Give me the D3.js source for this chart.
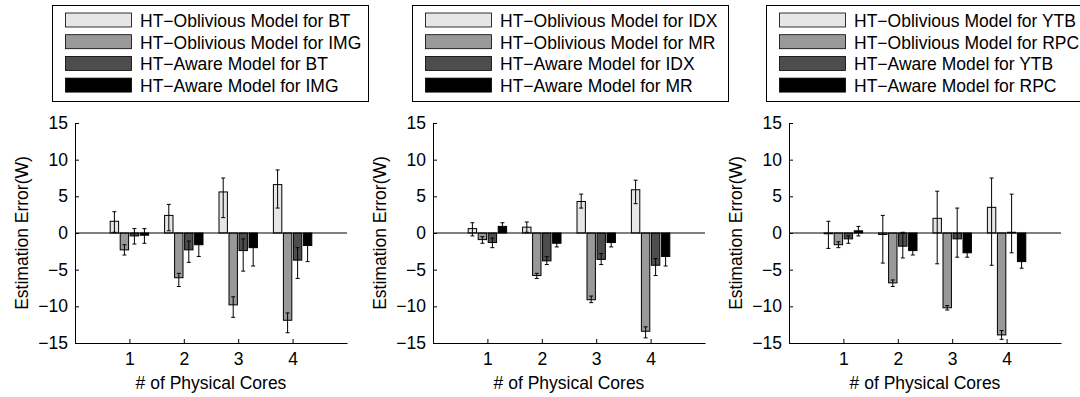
<!DOCTYPE html>
<html>
<head>
<meta charset="utf-8">
<script src="https://cdn.jsdelivr.net/npm/d3@7"></script>
<style>
  body { margin: 0; background: #fff; }
  svg text { font-family: "Liberation Sans", Arial, Helvetica, sans-serif; fill: #000; }
</style>
</head>
<body>
<div id="chart"></div>
<script>
// x categories and y ticks shared by all three panels
var cores = [1, 2, 3, 4];
var yTicks = [-15, -10, -5, 0, 5, 10, 15];

// panel 1: BT / IMG
var p1Names = ["HT\u2212Oblivious Model for BT", "HT\u2212Oblivious Model for IMG",
               "HT\u2212Aware Model for BT", "HT\u2212Aware Model for IMG"];
var p1Values = [[1.6, 2.4, 5.6, 6.6], [-2.3, -6.1, -9.8, -11.9], [-0.4, -2.3, -2.4, -3.7], [-0.3, -1.6, -2.0, -1.7]];
var p1Low    = [[0.1, 0.3, 2.1, 3.4], [-3.0, -7.3, -11.5, -13.6], [-1.5, -4.0, -5.2, -6.2], [-1.4, -3.2, -4.5, -3.9]];
var p1High   = [[2.9, 3.9, 7.5, 8.6], [-1.6, -5.5, -8.7, -10.9], [0.6, -1.1, -0.8, -2.0], [0.6, -0.6, -0.5, -0.3]];

// panel 2: IDX / MR
var p2Names = ["HT\u2212Oblivious Model for IDX", "HT\u2212Oblivious Model for MR",
               "HT\u2212Aware Model for IDX", "HT\u2212Aware Model for MR"];
var p2Values = [[0.6, 0.8, 4.3, 5.9], [-0.9, -5.8, -9.1, -13.4], [-1.3, -3.8, -3.6, -4.4], [0.9, -1.4, -1.3, -3.2]];
var p2Low    = [[-0.4, 0.1, 3.4, 4.0], [-1.4, -6.2, -9.5, -14.3], [-2.0, -4.3, -4.3, -5.8], [0.4, -1.9, -1.9, -4.5]];
var p2High   = [[1.4, 1.5, 5.3, 7.2], [-0.5, -5.5, -8.6, -12.8], [-0.7, -3.2, -2.8, -3.5], [1.4, -0.9, -0.8, -1.9]];

// panel 3: YTB / RPC
var p3Names = ["HT\u2212Oblivious Model for YTB", "HT\u2212Oblivious Model for RPC",
               "HT\u2212Aware Model for YTB", "HT\u2212Aware Model for RPC"];
var p3Values = [[-0.1, -0.2, 2.0, 3.5], [-1.6, -6.8, -10.2, -13.9], [-0.8, -1.8, -0.8, 0.1], [0.3, -2.4, -2.7, -3.9]];
var p3Low    = [[-2.1, -4.1, -4.2, -4.4], [-2.0, -7.3, -10.5, -14.5], [-1.4, -3.4, -3.3, -2.7], [-0.4, -3.0, -3.3, -4.8]];
var p3High   = [[1.6, 2.4, 5.7, 7.5], [-1.2, -6.4, -9.9, -13.3], [-0.4, 0.1, 3.4, 5.3], [0.9, -1.8, -2.1, -3.0]];

var panels = [
  { names: p1Names, values: p1Values, low: p1Low, high: p1High },
  { names: p2Names, values: p2Values, low: p2Low, high: p2High },
  { names: p3Names, values: p3Values, low: p3Low, high: p3High }
];

// layout
var svgWidth = 1080;
var svgHeight = 397;
var panelLeft = [75, 433, 789];
var legendLeft = [52, 412, 766];
var plotWidth = 272;
var plotTop = 123;
var plotBottom = 343;
var fontSize = "17.5px";
var colors = ["#e6e6e6", "#999999", "#4d4d4d", "#000000"];

var svg = d3.select("#chart")
  .append("svg")
  .attr("width", svgWidth)
  .attr("height", svgHeight);

panels.forEach(function(p, i) {
  // legend box
  var leg = svg.append("g")
    .attr("transform", `translate(${legendLeft[i]}, 5)`);
  leg.append("rect")
    .attr("x", 0.5).attr("y", 0.5)
    .attr("width", 316).attr("height", 96)
    .attr("fill", "#fff")
    .attr("stroke", "#000");
  p.names.forEach(function(name, s) {
    leg.append("rect")
      .attr("x", 13.5)
      .attr("y", 8 + s * 21.7)
      .attr("width", 66)
      .attr("height", 14)
      .attr("fill", colors[s])
      .attr("stroke", "#000")
      .attr("stroke-width", 0.8);
    leg.append("text")
      .attr("x", 88)
      .attr("y", 22 + s * 21.7)
      .style("font-size", fontSize)
      .text(name);
  });

  var g = svg.append("g")
    .attr("transform", `translate(${panelLeft[i]}, 0)`);

  var x = d3.scaleLinear().domain([0, 5]).range([0, plotWidth]);
  var y = d3.scaleLinear().domain([-15, 15]).range([plotBottom, plotTop]);
  var half = (x(1) - x(0)) * 0.353;
  var sub = d3.scaleBand()
    .domain(d3.range(4))
    .range([-half, half])
    .paddingInner(0.16);

  // bars
  p.values.forEach(function(vals, s) {
    g.selectAll(null)
      .data(vals)
      .enter()
      .append("rect")
      .attr("x", (d, k) => x(cores[k]) + sub(s))
      .attr("y", d => Math.min(y(d), y(0)))
      .attr("width", sub.bandwidth())
      .attr("height", d => Math.abs(y(d) - y(0)))
      .attr("fill", colors[s])
      .attr("stroke", "#000")
      .attr("stroke-width", 1);
  });

  // error bars
  p.values.forEach(function(vals, s) {
    var cx = k => x(cores[k]) + sub(s) + sub.bandwidth() / 2;
    var eb = g.selectAll(null)
      .data(vals)
      .enter()
      .append("g");
    eb.append("line")
      .attr("x1", (d, k) => cx(k)).attr("x2", (d, k) => cx(k))
      .attr("y1", (d, k) => y(p.low[s][k])).attr("y2", (d, k) => y(p.high[s][k]))
      .attr("stroke", "#000");
    eb.append("line")
      .attr("x1", (d, k) => cx(k) - 2).attr("x2", (d, k) => cx(k) + 2)
      .attr("y1", (d, k) => y(p.low[s][k])).attr("y2", (d, k) => y(p.low[s][k]))
      .attr("stroke", "#000");
    eb.append("line")
      .attr("x1", (d, k) => cx(k) - 2).attr("x2", (d, k) => cx(k) + 2)
      .attr("y1", (d, k) => y(p.high[s][k])).attr("y2", (d, k) => y(p.high[s][k]))
      .attr("stroke", "#000");
  });

  // zero baseline
  g.append("line")
    .attr("x1", x(0)).attr("x2", x(5))
    .attr("y1", y(0)).attr("y2", y(0))
    .attr("stroke", "#000");

  // axes, ticks point inward
  var leftAxis = d3.axisLeft(y).tickValues(yTicks).tickSize(-4).tickSizeOuter(0).tickPadding(7);
  var bottomAxis = d3.axisBottom(x).tickValues(cores).tickFormat(d3.format("d"))
    .tickSize(-4).tickSizeOuter(0).tickPadding(10);

  g.append("g")
    .call(leftAxis)
    .call(a => a.selectAll("text").style("font-size", fontSize).attr("fill", "#000"))
    .call(a => a.selectAll("line, path").attr("stroke", "#000"));

  g.append("g")
    .attr("transform", `translate(0, ${plotBottom})`)
    .call(bottomAxis)
    .call(a => a.selectAll("text").style("font-size", fontSize).attr("fill", "#000"))
    .call(a => a.selectAll("line, path").attr("stroke", "#000"));

  // axis labels
  g.append("text")
    .attr("transform", `translate(-47, ${(plotTop + plotBottom) / 2}) rotate(-90)`)
    .attr("text-anchor", "middle")
    .style("font-size", fontSize)
    .text("Estimation Error(W)");

  g.append("text")
    .attr("x", plotWidth / 2)
    .attr("y", 389)
    .attr("text-anchor", "middle")
    .style("font-size", fontSize)
    .text("# of Physical Cores");
});
</script>
</body>
</html>
